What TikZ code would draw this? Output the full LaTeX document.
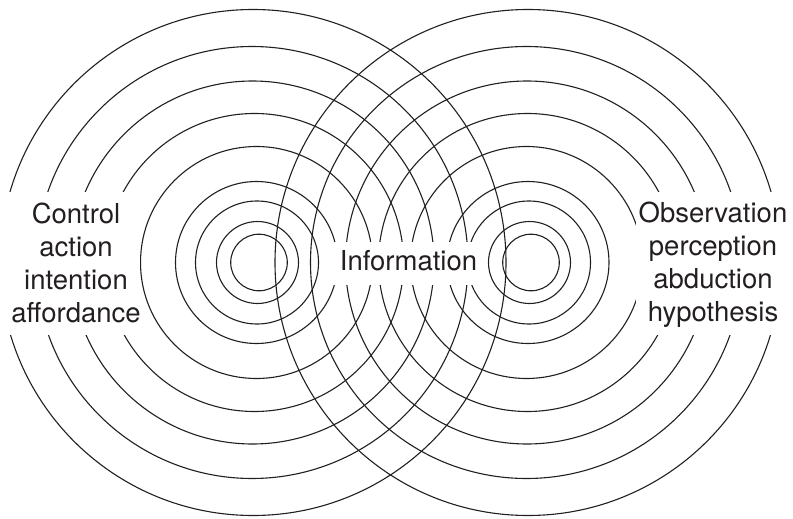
\documentclass[tikz,border=0pt]{standalone}
\usepackage{fontspec}
\setmainfont{TeX Gyre Heros}
\usepackage{xcolor}
\usepackage{tikz}
\definecolor{ink}{HTML}{231F20}

\begin{document}
\begin{tikzpicture}[
    x=1pt, y=-1pt,
    ring_line/.style={draw=ink, line width=1.1pt},
    mask_box/.style={fill=white},
    % Text Nodes
    side_node/.style={align=center, inner sep=0pt, text=ink, font=\fontsize{27.5}{33}\selectfont},
    info_node/.style={inner sep=0pt, text=ink, font=\fontsize{27.5}{33}\selectfont}
]
    \useasboundingbox (0,0) rectangle (793,519);

    % =========================================================================
    % RINGS AROUND THE TWO CENTRES
    % =========================================================================
    \foreach \r/\cx in {28.3/259, 41/257.5, 61.5/257, 81/256.5, 116/256.5, 149/254.5, 181.5/252.5, 216/252, 253/253} {
        \draw [ring_line] (\cx, 262.5) circle [radius=\r];
    }
    \foreach \r/\cx in {28.3/531, 41/529.5, 61.5/529, 81/528, 116/526.5, 149/527.5, 181.5/527, 216/526.5, 253/528} {
        \draw [ring_line] (\cx, 262.5) circle [radius=\r];
    }

    % =========================================================================
    % LABELS (white boxes cut the rings)
    % =========================================================================
    \fill [mask_box] (-1,192) rectangle (140,335);
    \fill [mask_box] (636,192) rectangle (794,335);
    \fill [mask_box] (332,242) rectangle (481,285);

    \node [side_node] (control) at (76, 262.7) {Control\\action\\intention\\affordance};
    \node [side_node] (observation) at (713, 265.2) {Observation\\perception\\abduction\\hypothesis};
    \node [info_node] (information) at (408.5, 260.3) {Information};
\end{tikzpicture}
\end{document}
